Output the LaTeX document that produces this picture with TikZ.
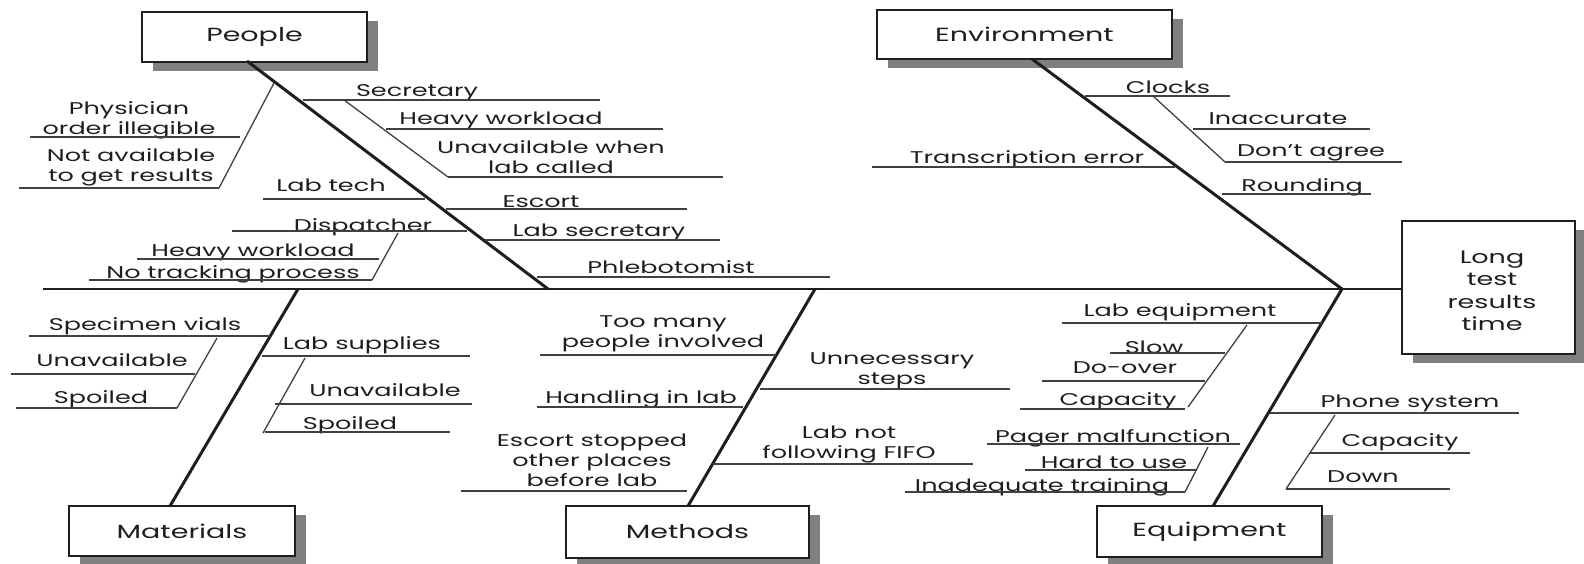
\documentclass[tikz,border=0pt]{standalone}
\usepackage{fontspec}
\setmainfont{Poppins}[FakeStretch=1.5]
\usetikzlibrary{shadows}
\definecolor{ink}{HTML}{1E1E1E}
\definecolor{shade}{HTML}{808080}
\tikzset{
  catbox/.style={draw=ink, line width=2pt, fill=white, inner sep=0pt, text=ink,
    font=\fontsize{19}{22}\selectfont,
    drop shadow={shadow xshift=11pt, shadow yshift=-9pt, fill=shade, opacity=1}},
  lab/.style={anchor=north, yshift=6.5pt, inner sep=0pt, align=center, text=ink,
    font=\fontsize{17}{20}\selectfont},
  bone/.style={draw=ink, line width=3pt},
  spine/.style={draw=ink, line width=2.6pt},
  twig/.style={draw=ink!85, line width=1.3pt},
}
\begin{document}
\begin{tikzpicture}[x=1pt,y=-1pt]
\useasboundingbox (0,0) rectangle (1584,563);
% ---- category boxes
\node[catbox, minimum width=225pt, minimum height=50pt] (people) at (254.5,37) {People};
\node[catbox, minimum width=295pt, minimum height=49pt] (env) at (1024.5,34.5) {Environment};
\node[catbox, minimum width=226pt, minimum height=50pt] (mat) at (182,531) {Materials};
\node[catbox, minimum width=243pt, minimum height=52pt] (meth) at (687.5,532) {Methods};
\node[catbox, minimum width=225pt, minimum height=51pt] (equip) at (1209.5,531.5) {Equipment};
\node[catbox, minimum width=173pt, minimum height=133pt] (long) at (1488.5,287.5) {};
\node[align=center, inner sep=0pt, text=ink, font=\fontsize{18}{22.5}\selectfont]
  (longtxt) at (1492,291) {Long\\test\\results\\time};
% ---- spine and main bones
\coordinate (tail) at (43,289);
\coordinate (head) at (1342,289);
\coordinate (pTop) at (247,61);
\coordinate (pEnd) at (548,289);
\coordinate (eTop) at (1032,59);
\coordinate (mTop) at (298,289);
\coordinate (mEnd) at (170,506);
\coordinate (tTop) at (815,289);
\coordinate (tEnd) at (688,506);
\coordinate (qEnd) at (1213,506);
\draw[spine] (tail) -- (long.west |- tail);
\draw[bone] (pTop) -- (pEnd);
\draw[bone] (eTop) -- (head);
\draw[bone] (mTop) -- (mEnd);
\draw[bone] (tTop) -- (tEnd);
\draw[bone] (head) -- (qEnd);
% ---- People
\node[lab] (l1) at (129,108) {Physician\\order illegible};
\draw[twig] (30,137) -- (240,137);
\node[lab] (l2) at (131,155) {Not available\\to get results};
\draw[twig] (19,188) -- (219,188);
\draw[twig] (274,83) -- (219,188);
\node[lab] (l4) at (417,91) {Secretary};
\draw[twig] (303,100) -- (600,100);
\draw[twig] (344,100) -- (448,177);
\node[lab] (l6) at (501,118) {Heavy workload};
\draw[twig] (386,129) -- (663,129);
\node[lab] (l7) at (551,147) {Unavailable when\\lab called};
\draw[twig] (448,177) -- (723,177);
\node[lab] (l8) at (331,185) {Lab tech};
\draw[twig] (263,199) -- (425,199);
\node[lab] (l9) at (541,202) {Escort};
\draw[twig] (446,209) -- (687,209);
\node[lab] (l10) at (363,225) {Dispatcher};
\draw[twig] (232,231) -- (467,231);
\draw[twig] (398,233) -- (372,280);
\node[lab] (l12) at (253,250) {Heavy workload};
\draw[twig] (137,259) -- (379,259);
\node[lab] (l13) at (233,272) {No tracking process};
\draw[twig] (89,280) -- (372,280);
\node[lab] (l14) at (599,230) {Lab secretary};
\draw[twig] (485,240) -- (720,240);
\node[lab] (l15) at (671,267) {Phlebotomist};
\draw[twig] (537,277) -- (830,277);
% ---- Environment
\node[lab] (l16) at (1168,87) {Clocks};
\draw[twig] (1085,96) -- (1230,96);
\draw[twig] (1153,96) -- (1225,162);
\node[lab] (l18) at (1278,119) {Inaccurate};
\draw[twig] (1193,129) -- (1370,129);
\node[lab] (l19) at (1311,151) {Don't agree};
\draw[twig] (1225,162) -- (1402,162);
\node[lab] (l20) at (1027,157) {Transcription error};
\draw[twig] (872,167) -- (1175,167);
\node[lab] (l21) at (1302,185) {Rounding};
\draw[twig] (1222,194) -- (1371,194);
% ---- Materials
\node[lab] (l22) at (145,324) {Specimen vials};
\draw[twig] (29,336) -- (270,336);
\draw[twig] (217,338) -- (177,408);
\node[lab] (l24) at (112,360) {Unavailable};
\draw[twig, line width=2pt] (11,374) -- (195,374);
\node[lab] (l25) at (101,397) {Spoiled};
\draw[twig] (16,408) -- (177,408);
\node[lab] (l26) at (362,343) {Lab supplies};
\draw[twig] (262,356) -- (470,356);
\draw[twig] (305,358) -- (263,433);
\node[lab] (l28) at (385,390) {Unavailable};
\draw[twig] (275,404) -- (472,404);
\node[lab] (l29) at (350,423) {Spoiled};
\draw[twig] (265,432) -- (450,432);
% ---- Methods
\node[lab] (l30) at (663,322) {Too many\\people involved};
\draw[twig] (540,355) -- (776,355);
\node[lab] (l31) at (641,397) {Handling in lab};
\draw[twig] (537,407) -- (743,407);
\node[lab] (l32) at (592,440) {Escort stopped\\other places\\before lab};
\draw[twig] (461,491) -- (687,491);
\node[lab] (l33) at (892,359) {Unnecessary\\steps};
\draw[twig] (760,389) -- (1010,389);
\node[lab] (l34) at (849,432) {Lab not\\following FIFO};
\draw[twig] (713,464) -- (973,464);
% ---- Equipment
\node[lab] (l35) at (1180,310) {Lab equipment};
\draw[twig] (1062,323) -- (1322,323);
\draw[twig] (1247,325) -- (1188,407);
\node[lab] (l37) at (1154,347) {Slow};
\draw[twig] (1110,353) -- (1225,353);
\node[lab] (l38) at (1125,368) {Do-over};
\draw[twig] (1042,381) -- (1205,381);
\node[lab] (l39) at (1118,399) {Capacity};
\draw[twig] (1020,409) -- (1185,409);
\node[lab] (l40) at (1113,436) {Pager malfunction};
\draw[twig] (987,444) -- (1240,444);
\draw[twig] (1208,447) -- (1185,492);
\node[lab] (l42) at (1114,462) {Hard to use};
\draw[twig] (1025,470) -- (1197,470);
\node[lab] (l43) at (1042,485) {Inadequate training};
\draw[twig] (905,492) -- (1185,492);
\node[lab] (l44) at (1410,401) {Phone system};
\draw[twig] (1270,413) -- (1519,413);
\draw[twig] (1335,415) -- (1286,489);
\node[lab] (l46) at (1400,440) {Capacity};
\draw[twig] (1310,453) -- (1470,453);
\node[lab] (l47) at (1363,477) {Down};
\draw[twig] (1286,489) -- (1450,489);
\end{tikzpicture}
\end{document}
